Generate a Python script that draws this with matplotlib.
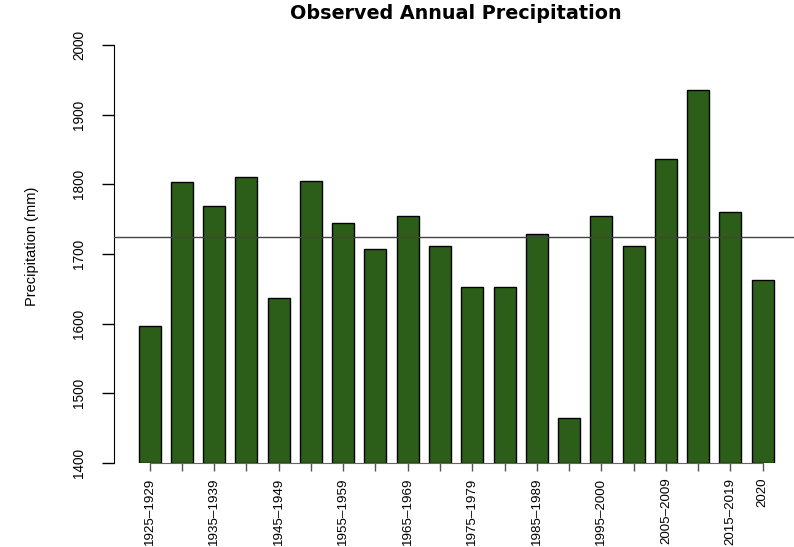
import matplotlib
matplotlib.use("Agg")
import matplotlib.pyplot as plt
import numpy as np

# Data
periods = ["1925–1929", "1930–1934", "1935–1939", "1940–1944", "1945–1949",
           "1950–1954", "1955–1959", "1960–1964", "1965–1969", "1970–1974",
           "1975–1979", "1980–1984", "1985–1989", "1990–1994", "1995–2000",
           "2001–2004", "2005–2009", "2010–2014", "2015–2019", "2020"]
precip = [1596, 1803, 1769, 1810, 1637, 1805, 1745, 1707, 1755, 1711,
          1653, 1652, 1729, 1465, 1755, 1712, 1837, 1935, 1760, 1663]
y_ticks = [1400, 1500, 1600, 1700, 1800, 1900, 2000]

plt.rcParams['font.family'] = ['Liberation Sans', 'DejaVu Sans']

fig = plt.figure(figsize=(7.94, 5.47), dpi=100)
ax = fig.add_axes([0.143, 0.1536, 0.857, 0.7641])

x = np.arange(len(precip))
ax.bar(x, np.array(precip) - 1400, bottom=1400, width=0.68,
       color='#2c5e1a', edgecolor='black', linewidth=1.0, zorder=2)

# long-term mean line
ax.axhline(np.mean(precip), color='#444444', linewidth=1.0, zorder=3)

ax.set_xlim(-1.116, 19.97)
ax.set_ylim(1400, 2000)

# R-style axes
for s in ['top', 'right']:
    ax.spines[s].set_visible(False)
ax.spines['left'].set_bounds(1400, 2000)
ax.spines['bottom'].set_bounds(0, len(precip) - 1)
ax.spines['bottom'].set_color('#666666')
ax.spines['bottom'].set_linewidth(0.8)

ax.set_yticks(y_ticks)
ax.set_yticklabels([str(v) for v in y_ticks], rotation=90, va='center')
ax.tick_params(axis='y', length=8.6, width=1.0, pad=11, labelsize=9.8)

# R drops overlapping labels: only every other one is shown, plus the last
shown = [p if (i % 2 == 0 or i == len(periods) - 1) else "" for i, p in enumerate(periods)]
ax.set_xticks(x)
ax.set_xticklabels(shown, rotation=90, va='top', ha='center')
ax.tick_params(axis='x', length=5.5, width=1.0, pad=5, labelsize=9.6, color='#555555')

fig.text(32 / 794, 0.55, "Precipitation (mm)", rotation=90, ha='center', va='center', fontsize=10.5)
fig.text(0.574, 0.975, "Observed Annual Precipitation", ha='center', va='center',
         fontsize=13.8, fontweight='bold', family='DejaVu Sans')

fig.savefig("out.png", dpi=100)
